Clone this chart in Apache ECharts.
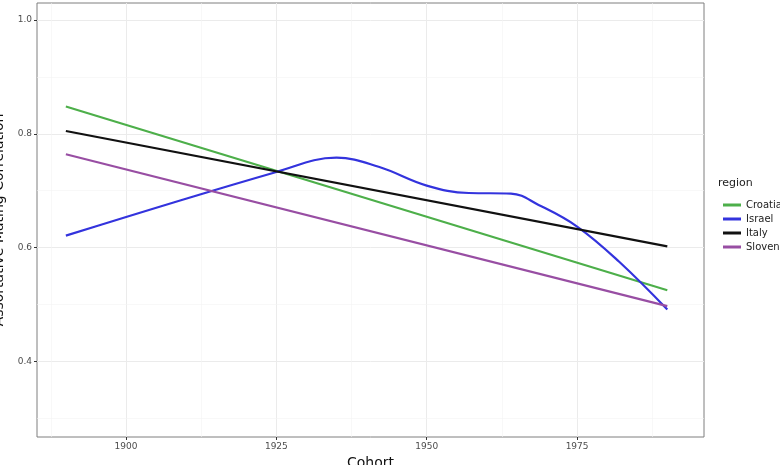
<!DOCTYPE html>
<html><head><meta charset="utf-8">
<script src="https://cdn.jsdelivr.net/npm/echarts@6/dist/echarts.min.js"></script>
<style>html,body{margin:0;padding:0;background:#fff}#c{width:780px;height:465px}</style>
</head><body><div id="c"></div>
<script>
const regions = ['Croatia','Israel','Italy','Slovenia'];
const colors = ['#4daf4a','#3333dd','#111111','#984ea3'];
const croatia = [[1890,0.848],[1990,0.525]];
const italy = [[1890,0.805],[1990,0.602]];
const slovenia = [[1890,0.764],[1990,0.497]];
const israel = [[1890,0.621],[1925,0.733],[1935,0.758],[1942,0.742],[1950,0.709],[1957,0.696],[1964,0.695],[1968.6,0.675],[1975,0.637],[1982,0.575],[1990,0.491]];
const xTicks = [1900,1925,1950,1975];
const xMinor = [1887.5,1912.5,1937.5,1962.5,1987.5];
const yTicks = [0.4,0.6,0.8,1.0];
const yMinor = [0.3,0.5,0.7,0.9];
const seriesData = [croatia, israel, italy, slovenia];

const chart = echarts.init(document.getElementById('c'));
const minorLines = xMinor.map(v=>({xAxis:v})).concat(yMinor.map(v=>({yAxis:v})));
chart.setOption({
  animation:false,
  grid:{left:37,right:76,top:3,bottom:28,containLabel:false,outerBoundsMode:'none',show:true,borderColor:'#7f7f7f',borderWidth:1},
  legend:{orient:'vertical',left:718,top:195,itemGap:4,itemWidth:18,itemHeight:3,
    textStyle:{fontSize:10,color:'#222',fontFamily:'DejaVu Sans'},
    icon:'rect', data:regions},
  graphic:[{type:'text',left:718,top:178,style:{text:'region',fontSize:11,fill:'#222',fontFamily:'DejaVu Sans'}}],
  xAxis:{type:'value',min:1885.2,max:1996.1,name:'Cohort',nameLocation:'middle',nameGap:16,
    nameTextStyle:{fontSize:14,color:'#111',fontFamily:'DejaVu Sans'},
    axisLine:{show:false},axisTick:{show:true,customValues:xTicks,length:3,lineStyle:{color:'#333'}},
    axisLabel:{customValues:xTicks,fontSize:9,color:'#4d4d4d',margin:5,fontFamily:'DejaVu Sans',formatter:v=>String(v)},
    splitLine:{show:true,lineStyle:{color:'#ebebeb',width:1}}},
  yAxis:{type:'value',min:0.267,max:1.03,name:'Assortative Mating Correlation',nameLocation:'middle',nameGap:22,
    nameTextStyle:{fontSize:14,color:'#111',fontFamily:'DejaVu Sans'},
    axisLine:{show:false},axisTick:{show:true,customValues:yTicks,length:3,lineStyle:{color:'#333'}},
    axisLabel:{customValues:yTicks,fontSize:9,color:'#4d4d4d',margin:5,fontFamily:'DejaVu Sans',formatter:v=>v.toFixed(1)},
    splitLine:{show:true,lineStyle:{color:'#ebebeb',width:1}}},
  series:[{type:'line',data:[],silent:true,z:0,markLine:{silent:true,symbol:'none',label:{show:false},
      lineStyle:{color:'#f4f4f4',width:0.6,type:'solid'},data:minorLines}}].concat(
    regions.map((r,i)=>({name:r,type:'line',data:seriesData[i],smooth:i===1?0.4:false,showSymbol:false,
      lineStyle:{color:colors[i],width:2.2},itemStyle:{color:colors[i]},zlevel:1,z:3})))
});
</script></body></html>
